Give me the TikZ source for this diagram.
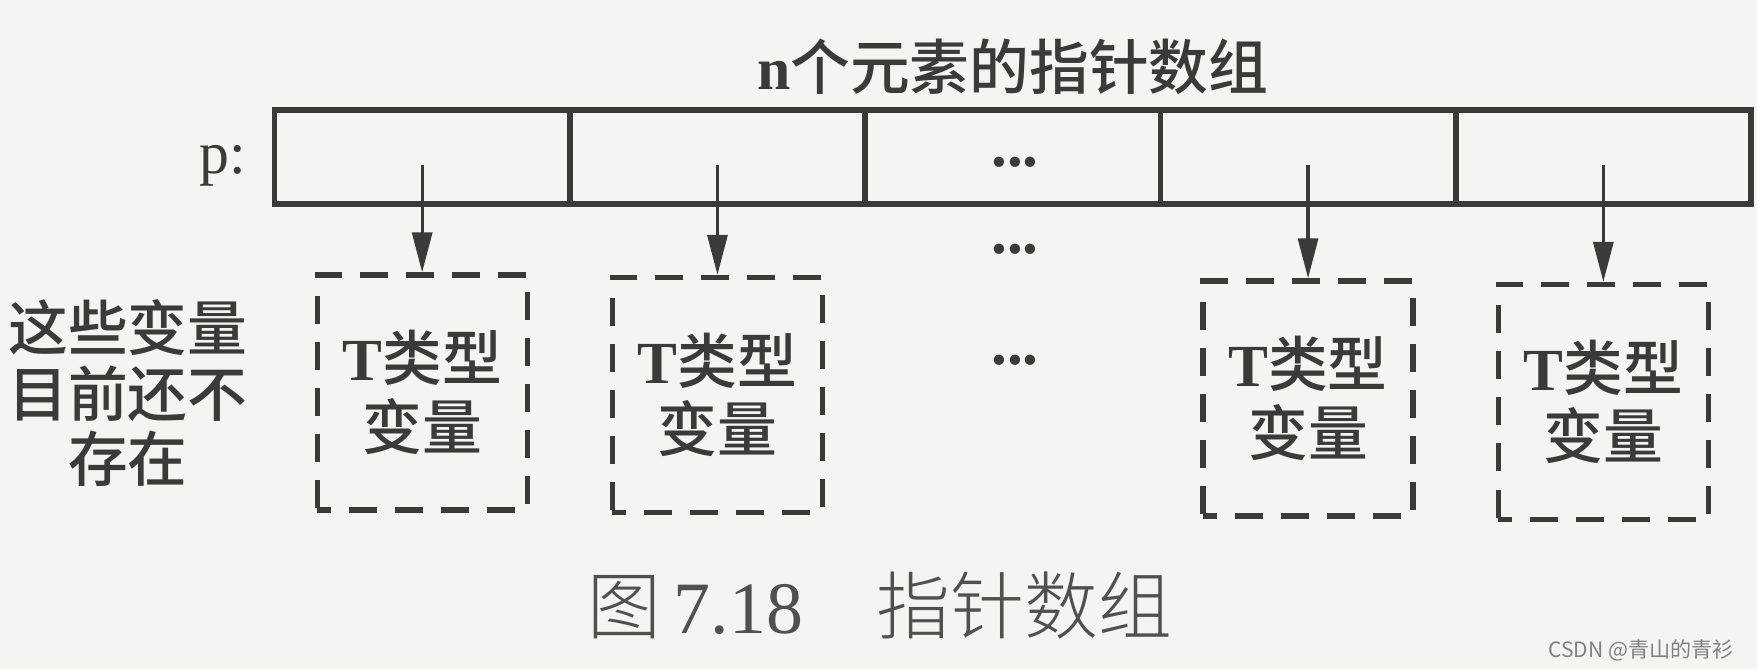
\documentclass[tikz,border=0pt]{standalone}
\usepackage{fontspec}
\setmainfont{Liberation Serif}
\newfontfamily\cjk{Noto Sans CJK SC}
\newfontfamily\cjkm{Noto Sans CJK SC Medium}
\newfontfamily\cjkl{Noto Sans CJK SC Light}
\usetikzlibrary{arrows.meta,positioning}
\definecolor{paper}{HTML}{F4F4F2}
\definecolor{ink}{HTML}{3A3A3A}
\definecolor{capink}{HTML}{505050}

\begin{document}
\begin{tikzpicture}[
		cell/.style={draw=ink, line width=1.6pt, minimum width=2.953cm, minimum height=0.94cm, inner sep=0pt},
		tvar/.style={draw=ink, line width=1.5pt, dash pattern=on 2.8mm off 1.8mm, dash phase=1.4mm, minimum width=2.1cm, minimum height=2.35cm, inner sep=0pt, align=center, text=ink, font=\cjkm\fontsize{17}{19.5}\selectfont},
		ptr/.style={draw=ink, line width=0.9pt, -{Triangle[length=4mm,width=2mm]}},
		lbl/.style={text=ink, font=\cjkm\fontsize{17}{18.5}\selectfont},
		dots/.style={text=ink, anchor=base, font=\bfseries\fontsize{18}{18}\selectfont}
	]
	
	\fill[paper] (0,0) rectangle (17.57,6.69);
	\useasboundingbox (0,0) rectangle (17.57,6.69);
	
	\foreach \i in {1,...,5}
		\node[cell] (c\i) at ({2.745+(\i-0.5)*2.953},5.12) {};
	
	\node[anchor=base east, inner sep=0pt, text=ink, font=\fontsize{17}{17}\selectfont] (plbl) at (2.47,4.96) {p:};
	\node[lbl] (title) at ([yshift=4mm]c3.north) {{\rmfamily\bfseries n}个元素的指针数组};
	
	\node[dots] (d1) at (10.15,5.03) {...};
	\node[dots] (d2) at (10.15,4.16) {...};
	\node[dots] (d3) at (10.15,3.05) {...};
	
	\node[tvar] (v1) at (c1 |- 0,2.765) {{\rmfamily\bfseries T}类型\\变量};
	\node[tvar] (v2) at (c2 |- 0,2.74) {{\rmfamily\bfseries T}类型\\变量};
	\node[tvar] (v4) at (c4 |- 0,2.705) {{\rmfamily\bfseries T}类型\\变量};
	\node[tvar] (v5) at (c5 |- 0,2.67) {{\rmfamily\bfseries T}类型\\变量};
	
	\draw[ptr] ([yshift=-0.8mm]c1.center) -- (v1.north);
	\draw[ptr] ([yshift=-0.8mm]c2.center) -- (v2.north);
	\draw[ptr] ([yshift=-0.8mm]c4.center) -- (v4.north);
	\draw[ptr] ([yshift=-0.8mm]c5.center) -- (v5.north);
	
	\node[lbl, align=center] (note) at (1.28,2.76) {这些变量\\目前还不\\存在};
	
	\node[text=capink, font=\fontsize{21}{21}\selectfont] (cap) at (8.80,0.64) {{\cjkl 图}\,7.18\quad{\cjkl 指针数组}};
	\node[anchor=east, text=gray, font=\cjk\fontsize{6}{6}\selectfont] (mark) at (17.46,0.19) {CSDN @青山的青衫};
	
\end{tikzpicture}
\end{document}
